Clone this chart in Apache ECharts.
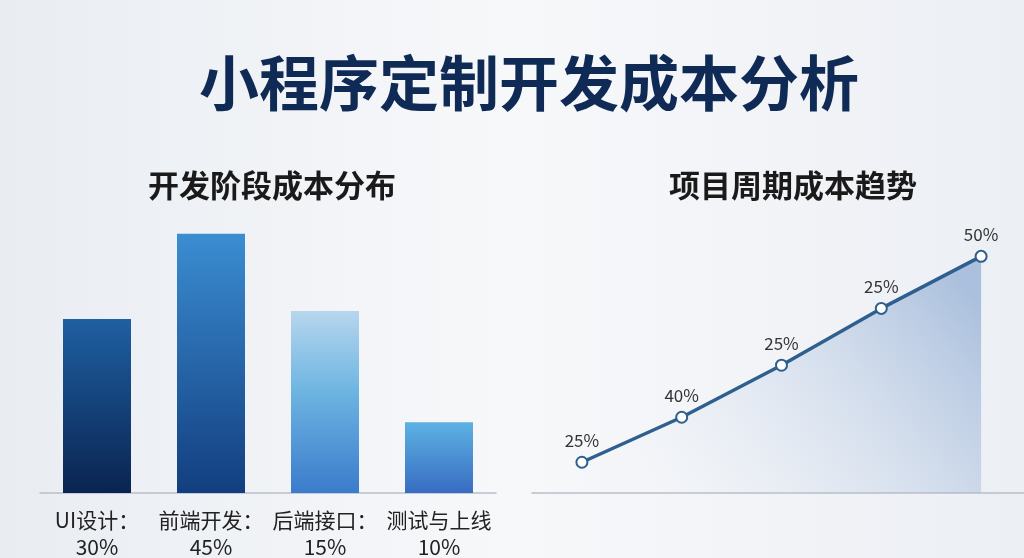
<!DOCTYPE html>
<html>
<head>
<meta charset="utf-8">
<script src="https://cdn.jsdelivr.net/npm/echarts@6/dist/echarts.min.js"></script>
<style>
  html, body { margin: 0; padding: 0; }
  #main { width: 1024px; height: 558px; }
</style>
</head>
<body>
<div id="main"></div>
<script>
    // 开发阶段成本分布
    var barCategories = ['UI设计：', '前端开发：', '后端接口：', '测试与上线'];
    var barLabels     = ['30%', '45%', '15%', '10%'];
    var barHeights    = [30.2, 45, 31.6, 12.3];

    // 项目周期成本趋势
    var lineCategories = ['1', '2', '3', '4', '5'];
    var lineLabels     = ['25%', '40%', '25%', '25%', '50%'];
    var lineValues     = [6.5, 16, 27, 39, 50];

    var fontCN = '"Noto Sans CJK SC", "Noto Sans", sans-serif';

    // 每根柱子的渐变色 (top -> bottom)
    var barColors = [
        [[0, '#1f5fa2'], [1, '#0a2450']],
        [[0, '#3b8dd2'], [1, '#123e7f']],
        [[0, '#b7d6ee'], [0.45, '#6cb4e1'], [1, '#3b7bcb']],
        [[0, '#5db2e3'], [1, '#386cc2']]
    ];

    var chart = echarts.init(document.getElementById('main'));

    var option = {
        backgroundColor: new echarts.graphic.LinearGradient(0, 0, 1, 0, [
            {offset: 0, color: '#e9edf2'},
            {offset: 0.5, color: '#f7f8fa'},
            {offset: 1, color: '#eceff4'}
        ]),
        title: [
            {
                text: '小程序定制开发成本分析',
                left: 524,
                textAlign: 'center',
                top: 48,
                textStyle: {
                    color: '#0e2a55',
                    fontSize: 60,
                    fontWeight: 'bold',
                    fontFamily: fontCN
                }
            },
            {
                text: '开发阶段成本分布',
                left: 267,
                textAlign: 'center',
                top: 165,
                textStyle: {
                    color: '#1a1a1a',
                    fontSize: 31,
                    fontWeight: 'bold',
                    fontFamily: fontCN
                }
            },
            {
                text: '项目周期成本趋势',
                left: 788,
                textAlign: 'center',
                top: 165,
                textStyle: {
                    color: '#1a1a1a',
                    fontSize: 31,
                    fontWeight: 'bold',
                    fontFamily: fontCN
                }
            }
        ],
        grid: [
            {left: 40, width: 456, top: 205, height: 288, outerBoundsMode: 'none', containLabel: false},
            {left: 532, width: 499, top: 209, height: 284, outerBoundsMode: 'none', containLabel: false}
        ],
        xAxis: [
            {
                type: 'category',
                gridIndex: 0,
                data: barCategories,
                axisTick: {show: false},
                axisLine: {lineStyle: {color: '#b9bfc9', width: 1.5}},
                axisLabel: {
                    interval: 0,
                    hideOverlap: false,
                    margin: 14,
                    color: '#222',
                    fontSize: 21,
                    lineHeight: 27,
                    fontFamily: fontCN,
                    formatter: function (v, i) {
                        return v + '\n' + barLabels[i];
                    }
                }
            },
            {
                type: 'category',
                gridIndex: 1,
                data: lineCategories,
                boundaryGap: true,
                axisTick: {show: false},
                axisLabel: {show: false},
                axisLine: {lineStyle: {color: '#b9bfc9', width: 1.5}}
            }
        ],
        yAxis: [
            {type: 'value', gridIndex: 0, min: 0, max: 50, show: false},
            {type: 'value', gridIndex: 1, min: 0, max: 60, show: false}
        ],
        series: [
            {
                type: 'bar',
                xAxisIndex: 0,
                yAxisIndex: 0,
                barWidth: 68,
                data: barHeights.map(function (v, i) {
                    return {
                        value: v,
                        itemStyle: {
                            color: new echarts.graphic.LinearGradient(0, 0, 0, 1,
                                barColors[i].map(function (s) {
                                    return {offset: s[0], color: s[1]};
                                }))
                        }
                    };
                })
            },
            {
                type: 'line',
                xAxisIndex: 1,
                yAxisIndex: 1,
                data: lineValues,
                symbol: 'emptyCircle',
                symbolSize: 11,
                lineStyle: {color: '#2e5f8e', width: 3.5},
                itemStyle: {color: '#2e5f8e', borderColor: '#2e5f8e', borderWidth: 3},
                label: {
                    show: true,
                    position: 'top',
                    distance: 7,
                    color: '#333',
                    fontSize: 17,
                    fontFamily: fontCN,
                    formatter: function (p) {
                        return lineLabels[p.dataIndex];
                    }
                },
                areaStyle: {
                    color: new echarts.graphic.LinearGradient(0.9, 0, 0.2, 1, [
                        {offset: 0, color: 'rgba(110,148,200,0.75)'},
                        {offset: 1, color: 'rgba(215,226,242,0.05)'}
                    ])
                }
            }
        ]
    };

    chart.setOption(option);
</script>
</body>
</html>
